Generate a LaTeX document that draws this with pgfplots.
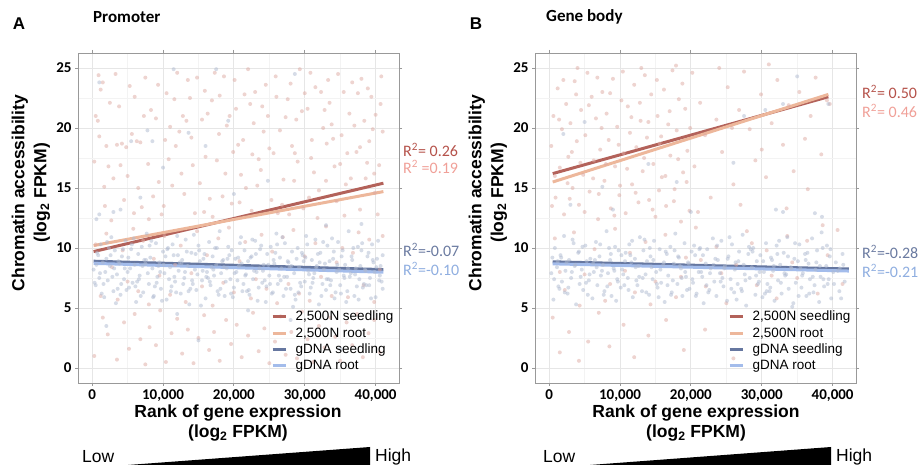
\documentclass[border=0pt]{standalone}
\usepackage{fontspec}
\setmainfont{Liberation Sans}
\newfontfamily\calibri{Carlito}
\usepackage{pgfplots}
\pgfplotsset{compat=1.18}

\definecolor{cRedD}{HTML}{B3625A}
\definecolor{cRedL}{HTML}{EDB79B}
\definecolor{cBluD}{HTML}{6677A0}
\definecolor{cBluL}{HTML}{A3BCEB}
\definecolor{ptRed}{HTML}{DDA9A2}
\definecolor{ptBlu}{HTML}{AEB9D0}
\definecolor{rA}{HTML}{B5524A}
\definecolor{rB}{HTML}{F0A098}
\definecolor{rC}{HTML}{6A7AA0}
\definecolor{rD}{HTML}{8FAEE0}
\definecolor{gridc}{HTML}{E6E6E6}
\definecolor{gridm}{HTML}{F3F3F3}

\pgfplotsset{
  panel/.style={
    scale only axis, width=321pt, height=330pt, anchor=south west,
    xmin=-2, xmax=43.3, ymin=-1.25, ymax=26.25,
    xtick={0,10,20,30,40}, xticklabels={0,{10,000},{20,000},{30,000},{40,000}},
    ytick={0,5,10,15,20,25},
    minor xtick={5,15,25,35}, minor ytick={2.5,7.5,12.5,17.5,22.5},
    grid=both, major grid style={gridc, line width=0.8pt}, minor grid style={gridm, line width=0.8pt},
    axis line style={draw=black!40, line width=0.8pt},
    tick align=outside, major tick length=3pt, minor tick length=0pt,
    tick style={black!40, line width=0.8pt},
    tick label style={font=\calibri\bfseries\fontsize{15}{15}\selectfont},
    /pgf/number format/assume math mode=true,
    legend style={at={(rel axis cs:1,0)}, anchor=south east, xshift=-1pt, yshift=8pt,
      draw=none, fill=none, font=\fontsize{13.5}{16}\selectfont, row sep=2.3pt,
      nodes={inner sep=1.5pt}},
    legend cell align=left,
    legend image code/.code={\draw[##1, line width=3pt] (0pt,0pt) -- (13pt,0pt);},
    pts/.style={only marks, mark=*, mark size=2pt, mark options={draw opacity=0, fill opacity=0.5}, forget plot},
  }
}

\begin{document}
\begin{tikzpicture}[x=1pt,y=1pt]
\useasboundingbox (0,0) rectangle (921,468);

% ================= Panel A =================
\begin{axis}[panel, at={(78pt,85pt)}]
% red points, upper
\addplot[pts, ptRed] coordinates {
(0.5,21.0)(0.8,20.6)(1.0,19.3)(1.2,23.2)(1.5,23.8)(2.0,18.5)(2.3,16.8)(3.0,15.8)(3.5,18.6)(4.2,18.7)(4.8,18.4)(5.0,16.0)(5.6,19.5)(6.3,18.9)(6.8,18.8)(7.5,24.2)(8.0,12.4)(8.6,14.3)(9.4,15.5)(10.1,13.5)(10.5,22.9)(11.0,20.1)(11.8,18.5)(12.3,19.7)(12.8,21.0)(13.5,24.0)(14.2,16.9)(14.8,24.2)(15.2,15.4)(15.8,13.0)(16.3,21.2)(16.9,22.3)(17.3,24.6)(17.6,17.3)(18.4,14.3)(19.0,20.2)(19.4,21.0)(20.1,24.0)(20.6,18.6)(21.0,16.1)(21.3,19.0)(22.0,24.9)(22.5,13.1)(23.0,23.0)(23.5,17.4)(24.2,19.7)(24.8,21.0)(25.3,14.0)(25.9,24.3)(26.5,19.8)(27.0,15.7)(27.6,22.4)(28.2,18.5)(28.8,20.7)(29.3,24.9)(29.8,13.3)(30.4,21.6)(30.9,17.5)(31.5,23.4)(32.0,14.8)(32.6,20.0)(33.1,18.7)(33.5,22.1)(34.2,16.8)(34.7,24.5)(35.2,19.4)(35.8,15.3)(36.3,21.2)(36.7,23.8)(37.3,18.0)(37.8,13.2)(38.4,20.6)(38.8,17.1)(39.4,22.6)(39.9,14.6)(40.5,16.9)(40.8,24.3)(41.0,19.7)
(1.8,13.5)(2.7,12.3)(3.8,21.8)(4.5,14.0)(6.0,22.6)(7.0,13.4)(7.9,17.0)(9.0,20.8)(9.8,12.8)(11.3,15.2)(12.0,24.6)(13.0,14.5)(14.0,19.2)(15.5,20.7)(16.0,17.6)(17.0,12.6)(18.0,22.7)(18.8,16.2)(19.7,13.7)(20.3,21.6)(21.7,15.0)(22.8,20.4)(23.8,16.5)(24.5,23.6)(25.6,17.9)(26.2,12.9)(27.3,20.9)(28.5,15.6)(29.0,17.2)(30.0,22.9)(31.0,19.0)(31.8,12.5)(32.3,23.0)(33.8,20.3)(34.5,13.9)(35.5,23.0)(36.0,17.9)(37.0,20.2)(38.0,24.1)(38.6,15.8)(39.1,18.9)(40.0,21.1)(40.3,12.8)(0.3,17.2)(2.5,22.1)(5.3,23.5)(8.3,21.5)(10.8,17.4)(13.8,22.5)(16.6,14.1)(19.9,18.0)(22.3,22.0)(26.8,13.6)(28.0,23.7)(30.6,14.2)(33.0,15.6)(35.0,17.0)(37.5,22.9)(39.6,19.9)
(0.9,24.4)(1.7,15.1)(3.3,24.5)(4.0,16.9)(6.5,15.0)(7.3,21.0)(9.3,23.6)(10.3,19.0)(11.6,22.4)(12.6,16.2)(14.5,12.9)(15.9,23.1)(17.9,19.5)(18.6,24.3)(20.8,13.8)(21.5,22.8)(23.3,15.2)(24.0,21.8)(25.0,18.3)(26.0,22.6)(27.8,12.8)(28.6,17.9)(29.6,21.4)(30.8,24.6)(31.3,16.3)(32.8,21.5)(34.0,19.1)(35.6,12.7)(36.5,15.8)(37.8,18.4)(38.9,23.3)(39.8,16.2)(40.7,22.0)(5.9,12.9)(13.3,20.6)(22.6,17.8)(33.3,24.0)
};
% red points, lower
\addplot[pts, ptRed] coordinates {
(0.3,1.0)(1.5,4.2)(2.2,2.8)(3.5,0.7)(4.5,3.8)(5.2,1.6)(6.0,4.5)(6.8,2.4)(7.5,0.3)(8.1,3.4)(9.0,1.9)(9.6,4.8)(10.4,0.5)(11.2,2.9)(12.0,4.1)(12.7,1.2)(13.5,3.2)(14.3,0.4)(15.0,2.5)(15.8,4.4)(16.5,1.5)(17.2,3.0)(18.0,0.6)(18.9,4.0)(19.6,2.0)(20.4,3.6)(21.1,0.9)(22.0,2.7)(22.7,4.6)(23.5,1.4)(24.3,3.3)(25.0,0.4)(25.8,2.2)(26.6,4.3)(27.3,1.1)(28.1,3.0)(28.9,0.8)(29.6,4.7)(30.4,2.4)(31.2,0.5)(32.0,3.5)(32.8,1.7)(33.6,4.2)(34.3,2.6)(35.0,0.6)(35.9,3.8)(36.7,1.9)(37.4,4.5)(38.2,0.9)(39.0,2.9)(39.8,4.0)(40.6,1.3)
};
% red points, middle
\addplot[pts, ptRed] coordinates {
(0.5,10.3)(1.2,6.0)(2.0,11.2)(2.8,8.4)(3.6,5.7)(4.3,9.8)(5.0,7.2)(5.8,11.6)(6.5,6.4)(7.2,10.6)(8.0,5.3)(8.7,9.1)(9.5,7.7)(10.2,11.0)(11.0,6.1)(11.7,8.6)(12.5,10.2)(13.2,5.5)(14.0,7.9)(14.8,11.4)(15.5,6.8)(16.2,9.4)(17.0,5.2)(17.8,10.8)(18.5,7.1)(19.3,11.7)(20.0,6.3)(20.8,8.9)(21.6,10.5)(22.4,5.8)(23.1,7.4)(23.9,11.1)(24.6,6.6)(25.4,9.7)(26.1,5.4)(26.9,10.9)(27.7,7.0)(28.4,11.5)(29.2,6.2)(30.0,9.3)(30.7,5.6)(31.5,10.4)(32.3,7.6)(33.0,11.8)(33.8,6.0)(34.5,8.8)(35.3,10.0)(36.1,5.9)(36.8,9.6)(37.6,11.3)(38.3,6.9)(39.1,10.7)(39.8,5.5)(40.6,8.2)(41.0,11.0)
};
% blue points
\addplot[pts, ptBlu] coordinates {
(0.2,8.2)(0.5,6.9)(0.7,9.6)(1.0,7.5)(1.2,10.3)(1.5,8.8)(1.7,5.9)(2.0,9.1)(2.2,7.3)(2.5,8.5)(2.7,10.9)(3.0,6.4)(3.2,9.8)(3.5,7.8)(3.7,8.9)(4.0,6.1)(4.2,9.3)(4.5,7.4)(4.7,10.6)(5.0,8.0)(5.2,6.7)(5.5,9.9)(5.7,7.1)(6.0,8.6)(6.2,5.5)(6.5,9.5)(6.7,7.7)(7.0,10.1)(7.2,6.3)(7.5,8.7)(7.7,11.2)(8.0,7.0)(8.2,9.2)(8.5,8.3)(8.7,6.0)(9.0,10.4)(9.2,7.6)(9.5,8.8)(9.7,6.6)(10.0,9.7)(10.2,7.9)(10.5,5.7)(10.7,10.0)(11.0,8.4)(11.2,6.8)(11.5,9.4)(11.7,7.2)(12.0,11.0)(12.2,8.1)(12.5,6.2)(12.7,9.0)(13.0,7.5)(13.2,10.7)(13.5,8.5)(13.7,5.3)(14.0,9.6)(14.2,7.0)(14.5,8.2)(14.7,6.5)(15.0,10.2)(15.2,8.9)(15.5,7.3)(15.7,9.1)(16.0,5.8)(16.2,8.0)(16.5,10.5)(16.7,6.9)(17.0,9.3)(17.2,7.7)(17.5,8.6)(17.7,6.4)(18.0,11.4)(18.2,7.9)(18.5,9.0)(18.7,6.0)(19.0,8.3)(19.2,10.1)(19.5,7.4)(19.7,9.8)(20.0,6.7)
(20.2,9.1)(20.5,7.3)(20.7,8.5)(21.0,10.9)(21.2,6.4)(21.5,9.8)(21.7,7.8)(22.0,8.9)(22.2,6.1)(22.5,9.3)(22.7,7.4)(23.0,10.6)(23.2,8.0)(23.5,6.7)(23.7,9.9)(24.0,7.1)(24.2,8.6)(24.5,5.5)(24.7,9.5)(25.0,7.7)(25.2,10.1)(25.5,6.3)(25.7,8.7)(26.0,11.2)(26.2,7.0)(26.5,9.2)(26.7,8.3)(27.0,6.0)(27.2,10.4)(27.5,7.6)(27.7,8.8)(28.0,6.6)(28.2,9.7)(28.5,7.9)(28.7,5.7)(29.0,10.0)(29.2,8.4)(29.5,6.8)(29.7,9.4)(30.0,7.2)(30.2,11.0)(30.5,8.1)(30.7,6.2)(31.0,9.0)(31.2,7.5)(31.5,10.7)(31.7,8.5)(32.0,5.3)(32.2,9.6)(32.5,7.0)(32.7,8.2)(33.0,6.5)(33.2,10.2)(33.5,8.9)(33.7,7.3)(34.0,9.1)(34.2,5.8)(34.5,8.0)(34.7,10.5)(35.0,6.9)(35.2,9.3)(35.5,7.7)(35.7,8.6)(36.0,6.4)(36.2,11.4)(36.5,7.9)(36.7,9.0)(37.0,6.0)(37.2,8.3)(37.5,10.1)(37.7,7.4)(38.0,9.8)(38.2,6.7)(38.5,8.2)(38.7,6.9)(39.0,9.6)(39.2,7.5)(39.5,10.3)(39.7,8.8)(40.0,5.9)(40.2,9.1)(40.5,7.3)(40.7,8.5)(41.0,6.6)
(0.35,7.1)(0.85,9.4)(1.35,6.2)(1.85,8.0)(2.35,10.0)(2.85,7.6)(3.35,5.4)(3.85,8.7)(4.35,9.9)(4.85,6.5)(5.35,8.3)(5.85,10.8)(6.35,7.2)(6.85,6.0)(7.35,9.0)(7.85,7.9)(8.35,10.6)(8.85,6.8)(9.35,8.5)(9.85,5.6)(10.35,9.3)(10.85,7.4)(11.35,10.3)(11.85,6.3)(12.35,8.8)(12.85,7.0)(13.35,9.7)(13.85,6.6)(14.35,11.1)(14.85,7.8)(15.35,5.2)(15.85,9.5)(16.35,7.5)(16.85,8.4)(17.35,10.0)(17.85,6.1)(18.35,8.9)(18.85,7.2)(19.35,9.4)(19.85,5.9)(20.35,8.0)(20.85,10.4)(21.35,7.0)(21.85,6.4)(22.35,9.2)(22.85,8.1)(23.35,5.6)(23.85,10.2)(24.35,7.3)(24.85,8.6)(25.35,6.2)(25.85,9.6)(26.35,7.7)(26.85,10.9)(27.35,6.6)(27.85,8.4)(28.35,5.1)(28.85,9.1)(29.35,7.1)(29.85,8.9)(30.35,10.3)(30.85,6.7)(31.35,7.9)(31.85,9.5)(32.35,6.0)(32.85,8.7)(33.35,7.4)(33.85,10.8)(34.35,6.3)(34.85,8.2)(35.35,9.8)(35.85,5.5)(36.35,7.6)(36.85,10.0)(37.35,6.8)(37.85,8.5)(38.35,7.0)(38.85,9.3)(39.35,5.8)(39.85,8.0)(40.35,10.6)(40.85,7.2)
(0.6,8.6)(1.6,7.0)(2.6,9.4)(3.6,6.6)(4.6,8.3)(5.6,10.3)(6.6,7.4)(7.6,9.0)(8.6,5.9)(9.6,8.0)(10.6,9.9)(11.6,7.6)(12.6,8.7)(13.6,6.4)(14.6,9.5)(15.6,8.1)(16.6,7.2)(17.6,10.0)(18.6,8.4)(19.6,6.2)(20.6,9.2)(21.6,7.7)(22.6,10.7)(23.6,8.3)(24.6,6.8)(25.6,9.0)(26.6,7.3)(27.6,8.9)(28.6,6.1)(29.6,9.6)(30.6,7.8)(31.6,8.4)(32.6,10.5)(33.6,6.9)(34.6,8.6)(35.6,7.5)(36.6,9.3)(37.6,5.7)(38.6,8.1)(39.6,9.0)(40.6,7.7)
(1.1,7.9)(2.1,10.5)(3.1,8.3)(4.1,7.0)(5.1,9.2)(6.1,6.8)(7.1,8.5)(8.1,10.2)(9.1,7.1)(10.1,8.6)(11.1,6.4)(12.1,9.4)(13.1,8.0)(14.1,7.3)(15.1,9.8)(16.1,7.6)(17.1,8.2)(18.1,6.6)(19.1,9.1)(20.1,7.9)(21.1,8.7)(22.1,6.5)(23.1,9.5)(24.1,8.1)(25.1,7.0)(26.1,10.3)(27.1,7.6)(28.1,8.5)(29.1,6.3)(30.1,9.2)(31.1,7.1)(32.1,8.8)(33.1,7.4)(34.1,9.7)(35.1,6.2)(36.1,8.3)(37.1,7.8)(38.1,10.4)(39.1,6.9)(40.1,8.4)(41.0,9.4)
(1.0,23.8)(11.5,24.9)(13.6,19.6)(17.5,24.9)(19.2,20.6)(7.8,19.8)(5.5,18.9)(8.5,18.9)(28.6,24.5)(16.0,18.5)(10.0,16.7)(20.0,14.5)(6.8,14.2)(3.0,13.0)(4.0,13.2)(1.0,12.8)(0.6,12.4)(24.8,15.6)(2.0,3.5)(15.0,2.3)(28.0,4.0)(35.0,1.6)(12.0,4.5)(22.0,4.8)(38.0,12.0)(33.0,11.9)
};
\addplot[cRedD, line width=3pt] coordinates {(0.2,9.7)(41.1,15.4)};
\addlegendentry{\hspace{7pt}2,500N seedling}
\addplot[cRedL, line width=3pt] coordinates {(0.2,10.2)(41.1,14.7)};
\addlegendentry{\hspace{7pt}2,500N root}
\addplot[cBluD, line width=3pt] coordinates {(0.2,8.9)(41.1,8.2)};
\addlegendentry{\hspace{7pt}gDNA seedling}
\addplot[cBluL, line width=3pt] coordinates {(0.2,8.72)(41.1,7.98)};
\addlegendentry{\hspace{7pt}gDNA root}
\end{axis}

% ================= Panel B =================
\begin{axis}[panel, at={(535pt,85pt)}]
\addplot[pts, ptRed] coordinates {
(0.3,18.5)(0.6,21.0)(0.9,14.2)(1.2,23.3)(1.5,16.7)(1.8,19.9)(2.1,12.8)(2.4,22.0)(2.7,17.6)(3.0,20.4)(3.3,15.0)(3.6,23.9)(3.9,18.9)(4.2,13.6)(4.5,21.5)(4.8,16.1)(5.1,19.4)(5.4,24.6)(5.7,14.7)(6.0,22.6)(6.3,17.3)(6.6,20.8)(6.9,12.4)(7.2,18.2)(7.5,23.0)(7.8,15.6)(8.1,21.2)(8.4,19.0)(8.7,13.3)(9.0,24.1)(9.3,16.8)(9.6,20.1)(9.9,14.4)(10.2,22.3)(10.5,17.9)(10.8,12.9)(11.1,21.8)(11.4,19.6)(11.7,15.3)(12.0,23.6)(12.3,18.4)(12.6,13.8)(12.9,20.6)(13.2,16.4)(13.5,24.4)(13.8,19.2)(14.1,14.0)(14.4,22.8)(14.7,17.0)(15.0,12.6)(15.3,21.0)(15.6,18.7)(15.9,15.9)(16.2,23.2)(16.5,13.5)(16.8,20.3)(17.1,17.7)(17.4,24.8)(17.7,14.9)(18.0,19.8)(18.3,22.4)(18.6,12.2)(18.9,16.3)(19.2,21.6)(19.5,18.1)(19.8,13.1)
(0.8,16.0)(1.4,20.7)(2.0,24.0)(2.6,15.4)(3.2,18.0)(3.8,22.8)(4.4,17.1)(5.0,13.0)(5.6,21.9)(6.2,15.8)(6.8,24.2)(7.4,20.0)(8.0,17.0)(8.6,22.9)(9.2,12.7)(9.8,18.6)(10.4,24.7)(11.0,16.6)(11.6,20.9)(12.2,14.6)(12.8,22.1)(13.4,17.5)(14.0,20.5)(14.6,13.2)(15.2,24.0)(15.8,19.3)(16.4,16.0)(17.0,21.4)(17.6,13.9)(18.2,17.4)(18.8,23.7)(19.4,15.5)(19.9,20.0)(0.4,13.5)(2.9,14.1)(4.0,25.0)(7.0,14.5)(10.0,15.2)(13.0,25.0)(15.5,14.8)(17.9,25.2)
(20.5,16.8)(21.3,22.1)(22.0,19.4)(22.8,14.2)(23.6,20.7)(24.4,18.0)(25.2,23.4)(26.0,15.3)(26.8,21.5)(27.5,24.7)(28.3,19.9)(29.1,17.3)(29.9,22.8)(30.6,15.9)(31.4,20.4)(32.2,24.0)(33.0,18.6)(33.8,21.9)(34.5,16.4)(35.3,23.0)(36.1,19.1)(36.9,21.0)(37.6,24.2)(38.4,17.8)(39.2,22.3)(39.6,22.0)(21.0,13.0)(24.0,25.0)(27.0,13.6)(30.0,18.2)(33.5,13.3)(36.5,14.9)(20.2,24.6)(25.8,20.0)(31.0,25.3)
(0.8,10.8)(2.2,6.5)(3.5,11.3)(5.0,7.8)(6.4,9.9)(7.9,5.6)(9.3,11.6)(10.7,8.1)(12.1,6.3)(13.6,10.5)(15.0,7.2)(16.4,11.1)(17.9,5.9)(19.3,9.2)(20.7,11.7)(22.1,6.8)(23.6,10.1)(25.0,5.4)(26.4,8.6)(27.9,11.4)(29.3,6.9)(30.7,9.8)(32.1,5.8)(33.6,11.0)(35.0,7.5)(36.4,10.6)(37.9,6.2)(39.3,9.4)(40.7,11.5)(41.4,7.0)(1.5,8.0)(4.3,5.2)(8.6,7.0)(11.4,9.6)(14.3,5.3)(18.6,7.6)(21.4,9.0)(24.3,7.9)(28.6,10.4)(31.4,7.7)(34.3,8.8)(38.6,11.9)
(0.5,4.2)(1.5,1.3)(2.8,3.0)(4.2,0.6)(5.5,2.2)(7.0,4.6)(8.5,1.8)(10.5,3.6)(12.0,0.9)(14.0,2.7)(16.5,4.0)(19.0,1.5)(22.0,3.2)(26.0,0.8)
};
\addplot[pts, ptBlu] coordinates {
(0.3,7.9)(0.6,5.7)(0.8,10.0)(1.1,8.4)(1.3,6.8)(1.6,9.4)(1.8,7.2)(2.1,11.0)(2.3,8.1)(2.6,6.2)(2.8,9.0)(3.1,7.5)(3.3,10.7)(3.6,8.5)(3.8,5.3)(4.1,9.6)(4.3,7.0)(4.6,8.2)(4.8,6.5)(5.1,10.2)(5.3,8.9)(5.6,7.3)(5.8,9.1)(6.1,5.8)(6.3,8.0)(6.6,10.5)(6.8,6.9)(7.1,9.3)(7.3,7.7)(7.6,8.6)(7.8,6.4)(8.1,11.4)(8.3,7.9)(8.6,9.0)(8.8,6.0)(9.1,8.3)(9.3,10.1)(9.6,7.4)(9.8,9.8)(10.1,6.7)
(10.3,8.2)(10.6,6.9)(10.8,9.6)(11.1,7.5)(11.3,10.3)(11.6,8.8)(11.8,5.9)(12.1,9.1)(12.3,7.3)(12.6,8.5)(12.8,10.9)(13.1,6.4)(13.3,9.8)(13.6,7.8)(13.8,8.9)(14.1,6.1)(14.3,9.3)(14.6,7.4)(14.8,10.6)(15.1,8.0)(15.3,6.7)(15.6,9.9)(15.8,7.1)(16.1,8.6)(16.3,5.5)(16.6,9.5)(16.8,7.7)(17.1,10.1)(17.3,6.3)(17.6,8.7)(17.8,11.2)(18.1,7.0)(18.3,9.2)(18.6,8.3)(18.8,6.0)(19.1,10.4)(19.3,7.6)(19.6,8.8)(19.8,6.6)(20.1,9.7)
(20.3,7.1)(20.6,9.4)(20.8,6.2)(21.1,8.0)(21.3,10.0)(21.6,7.6)(21.8,5.4)(22.1,8.7)(22.3,9.9)(22.6,6.5)(22.8,8.3)(23.1,10.8)(23.3,7.2)(23.6,6.0)(23.8,9.0)(24.1,7.9)(24.3,10.6)(24.6,6.8)(24.8,8.5)(25.1,5.6)(25.3,9.3)(25.6,7.4)(25.8,10.3)(26.1,6.3)(26.3,8.8)(26.6,7.0)(26.8,9.7)(27.1,6.6)(27.3,11.1)(27.6,7.8)(27.8,5.2)(28.1,9.5)(28.3,7.5)(28.6,8.4)(28.8,10.0)(29.1,6.1)(29.3,8.9)(29.6,7.2)(29.8,9.4)(30.1,5.9)
(30.3,8.0)(30.6,10.4)(30.8,7.0)(31.1,6.4)(31.3,9.2)(31.6,8.1)(31.8,5.6)(32.1,10.2)(32.3,7.3)(32.6,8.6)(32.8,6.2)(33.1,9.6)(33.3,7.7)(33.6,10.9)(33.8,6.6)(34.1,8.4)(34.3,5.1)(34.6,9.1)(34.8,7.1)(35.1,8.9)(35.3,10.3)(35.6,6.7)(35.8,7.9)(36.1,9.5)(36.3,6.0)(36.6,8.7)(36.8,7.4)(37.1,10.8)(37.3,6.3)(37.6,8.2)(37.8,9.8)(38.1,5.5)(38.3,7.6)(38.6,10.0)(38.8,6.8)(39.1,8.5)(39.3,7.0)(39.6,9.3)(39.8,5.8)(40.1,8.0)
(0.45,9.2)(1.45,6.6)(2.45,8.8)(3.45,10.4)(4.45,7.6)(5.45,6.1)(6.45,9.0)(7.45,8.1)(8.45,10.0)(9.45,5.6)(10.45,7.8)(11.45,9.4)(12.45,6.9)(13.45,10.7)(14.45,8.4)(15.45,5.9)(16.45,9.7)(17.45,7.3)(18.45,8.5)(19.45,6.5)(20.45,10.2)(21.45,8.0)(22.45,6.3)(23.45,9.1)(24.45,7.5)(25.45,10.9)(26.45,5.7)(27.45,8.6)(28.45,9.9)(29.45,7.0)(30.45,6.2)(31.45,9.0)(32.45,10.6)(33.45,7.8)(34.45,5.4)(35.45,8.3)(36.45,9.6)(37.45,6.9)(38.45,11.3)(39.45,7.4)(40.45,8.8)(40.95,6.4)(41.4,9.5)(41.7,7.2)(41.2,5.8)
(0.7,7.4)(1.7,9.2)(2.7,6.7)(3.7,8.6)(4.7,10.1)(5.7,7.8)(6.7,8.4)(7.7,6.1)(8.7,9.5)(9.7,7.2)(10.7,8.9)(11.7,10.6)(12.7,7.6)(13.7,6.3)(14.7,9.0)(15.7,8.2)(16.7,6.9)(17.7,9.8)(18.7,7.5)(19.7,8.7)(20.7,6.0)(21.7,9.4)(22.7,7.9)(23.7,10.2)(24.7,8.3)(25.7,6.6)(26.7,8.9)(27.7,7.3)(28.7,9.7)(29.7,8.0)(30.7,6.4)(31.7,8.5)(32.7,7.1)(33.7,9.3)(34.7,10.4)(35.7,7.7)(36.7,6.2)(37.7,8.8)(38.7,7.4)(39.7,9.9)(40.7,8.1)(41.5,8.6)
(1.2,8.9)(2.2,6.3)(3.2,8.0)(4.2,9.7)(5.2,7.1)(6.2,8.7)(7.2,10.3)(8.2,6.8)(9.2,8.1)(10.2,9.4)(11.2,6.5)(12.2,8.4)(13.2,7.5)(14.2,10.0)(15.2,7.0)(16.2,8.8)(17.2,6.1)(18.2,9.3)(19.2,8.0)(20.2,7.4)(21.2,9.9)(22.2,6.9)(23.2,8.6)(24.2,7.2)(25.2,9.1)(26.2,8.2)(27.2,6.4)(28.2,10.1)(29.2,7.7)(30.2,8.9)(31.2,6.7)(32.2,9.5)(33.2,7.9)(34.2,8.3)(35.2,6.0)(36.2,9.0)(37.2,7.6)(38.2,8.5)(39.2,10.2)(40.2,7.0)(41.0,8.3)
(5.0,20.5)(14.0,17.0)(20.0,13.0)(27.5,21.0)(30.5,21.5)(35.0,24.3)(33.0,22.0)(2.0,19.5)(9.0,13.2)(26.0,17.1)(32.0,13.2)(33.0,13.0)(37.5,12.9)(38.5,12.6)(39.4,22.0)(3.0,13.6)(18.0,15.5)(7.5,15.1)
};
\addplot[cRedD, line width=3pt] coordinates {(0.5,16.2)(39.4,22.6)};
\addlegendentry{\hspace{7pt}2,500N seedling}
\addplot[cRedL, line width=3pt] coordinates {(0.5,15.5)(39.4,22.8)};
\addlegendentry{\hspace{7pt}2,500N root}
\addplot[cBluD, line width=3pt] coordinates {(0.5,8.85)(42.3,8.25)};
\addlegendentry{\hspace{7pt}gDNA seedling}
\addplot[cBluL, line width=3pt] coordinates {(0.5,8.68)(42.3,8.08)};
\addlegendentry{\hspace{7pt}gDNA root}
\end{axis}

% ---------- panel letters and titles ----------
\node[font=\bfseries\fontsize{17}{17}\selectfont] at (19,444) {A};
\node[anchor=west, inner sep=0pt, font=\calibri\bfseries\fontsize{17}{17}\selectfont] at (93,451) {Promoter};
\node[font=\bfseries\fontsize{17}{17}\selectfont] at (476,444) {B};
\node[anchor=west, inner sep=0pt, font=\calibri\bfseries\fontsize{17}{17}\selectfont] at (546,451) {Gene body};

% ---------- axis labels ----------
\node[rotate=90, align=center, font=\bfseries\fontsize{17.5}{22}\selectfont] at (31,275) {Chromatin accessibility\\(log\textsubscript{2} FPKM)};
\node[rotate=90, align=center, font=\bfseries\fontsize{17.5}{22}\selectfont] at (488,275) {Chromatin accessibility\\(log\textsubscript{2} FPKM)};
\node[align=center, font=\bfseries\fontsize{17.5}{20}\selectfont] at (238,45) {Rank of gene expression\\(log\textsubscript{2} FPKM)};
\node[align=center, font=\bfseries\fontsize{17.5}{20}\selectfont] at (696,45) {Rank of gene expression\\(log\textsubscript{2} FPKM)};

% ---------- R^2 labels ----------
\begin{scope}[every node/.style={anchor=west, inner sep=0pt, font=\calibri\fontsize{16}{16}\selectfont}]
\node[text=rA] at (403,318) {R\textsuperscript{2}= 0.26};
\node[text=rB] at (403,301) {R\textsuperscript{2} =0.19};
\node[text=rC] at (403,218) {R\textsuperscript{2}=-0.07};
\node[text=rD] at (403,199) {R\textsuperscript{2}=-0.10};
\node[text=rA] at (862,376) {R\textsuperscript{2}= 0.50};
\node[text=rB] at (862,357) {R\textsuperscript{2}= 0.46};
\node[text=rC] at (862,216) {R\textsuperscript{2}=-0.28};
\node[text=rD] at (862,197) {R\textsuperscript{2}=-0.21};
\end{scope}

% ---------- Low / High wedges ----------
\begin{scope}[every node/.style={anchor=west, inner sep=0pt, font=\fontsize{17.5}{17.5}\selectfont}]
\node at (82,11) {Low};
\fill[black] (128,3) -- (370,3) -- (370,21) -- cycle;
\node at (375,11) {High};
\node at (543,11) {Low};
\fill[black] (590,3) -- (831,3) -- (831,21) -- cycle;
\node at (836,11) {High};
\end{scope}
\end{tikzpicture}
\end{document}
